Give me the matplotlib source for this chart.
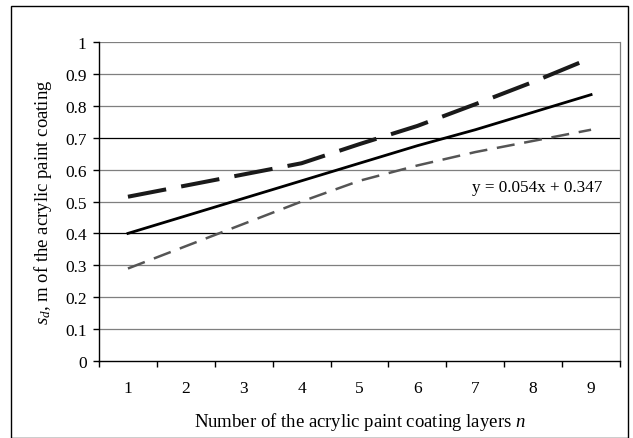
import matplotlib
matplotlib.use("Agg")
import matplotlib.pyplot as plt
from matplotlib.patches import Rectangle
import numpy as np

# Data
layers = [1, 2, 3, 4, 5, 6, 7, 8, 9]
sd_upper = [0.515, 0.55, 0.585, 0.62, 0.68, 0.737, 0.805, 0.875, 0.95]
sd_mean = [0.40, 0.455, 0.51, 0.565, 0.62, 0.675, 0.725, 0.78, 0.835]
sd_lower = [0.29, 0.36, 0.43, 0.50, 0.565, 0.613, 0.655, 0.69, 0.725]
y_ticks = [0, 0.1, 0.2, 0.3, 0.4, 0.5, 0.6, 0.7, 0.8, 0.9, 1]
y_ticklabels = ["0", "0.1", "0.2", "0.3", "0.4", "0.5", "0.6", "0.7", "0.8", "0.9", "1"]
trend_text = "y = 0.054x + 0.347"

plt.rcParams["font.family"] = ["Liberation Serif", "DejaVu Serif"]
plt.rcParams["mathtext.fontset"] = "custom"
plt.rcParams["mathtext.it"] = "Liberation Serif:italic"
plt.rcParams["mathtext.rm"] = "Liberation Serif"
plt.rcParams["lines.scale_dashes"] = False

fig = plt.figure(figsize=(6.33, 4.39), dpi=100)
ax = fig.add_axes([0.1564, 0.1754, 0.8231, 0.7266])

# outer chart frame
fig.patches.append(Rectangle((11 / 633, 0.5 / 439), 617 / 633, 431.5 / 439,
                             transform=fig.transFigure, fill=False,
                             edgecolor="black", linewidth=1.0))

ax.set_xlim(0.5, 9.5)
ax.set_ylim(0, 1)

# gridlines
for v in y_ticks[1:]:
    c = "black" if v in (0.4, 0.7) else "#7f7f7f"
    ax.axhline(v, color=c, linewidth=0.9, zorder=1)

x = np.array(layers)
ax.plot(x, sd_upper, color="#1a1a1a", linewidth=2.9, dashes=(28, 11),
        solid_capstyle="butt", dash_capstyle="butt", zorder=3)
ax.plot(x, sd_mean, color="black", linewidth=2.0, zorder=3)
ax.plot(x, sd_lower, color="#555555", linewidth=1.8, dashes=(13, 7),
        dash_capstyle="butt", zorder=3)

ax.text(9.2, 0.5 + 0.02, trend_text, ha="right", va="bottom", fontsize=12.3)

ax.set_yticks(y_ticks)
ax.set_yticklabels(y_ticklabels)
ax.set_xticks(layers)
ax.set_xticks(np.arange(0.5, 10, 1), minor=True)
ax.tick_params(axis="x", which="major", length=0, labelsize=12.5, pad=14)
ax.tick_params(axis="x", which="minor", length=4, direction="out", width=1)
ax.tick_params(axis="y", length=4, direction="out", width=1, labelsize=12.5, pad=5)

ax.spines["top"].set_visible(False)
ax.spines["right"].set_color("#7f7f7f")
ax.spines["right"].set_linewidth(0.9)
ax.spines["left"].set_linewidth(1.0)
ax.spines["bottom"].set_linewidth(1.0)

ax.set_xlabel("Number of the acrylic paint coating layers $n$", fontsize=13.5, labelpad=10)
ax.set_ylabel("$s_d$, m of the acrylic paint coating", fontsize=13.5, labelpad=8)

fig.savefig("out.png", dpi=100)
